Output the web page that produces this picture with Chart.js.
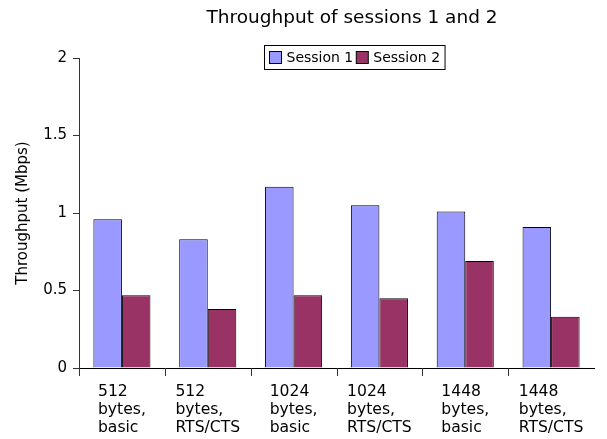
<!DOCTYPE html>
<html>
<head>
<meta charset="utf-8">
<script src="https://cdn.jsdelivr.net/npm/chart.js@4"></script>
<style>
  html, body { margin: 0; padding: 0; background: #fff; }
  #wrap { width: 607px; height: 439px; }
</style>
</head>
<body>
<div id="wrap"><canvas id="chart" width="607" height="439"></canvas></div>
<script>
const categories = [
  ['512', 'bytes,', 'basic'],
  ['512', 'bytes,', 'RTS/CTS'],
  ['1024', 'bytes,', 'basic'],
  ['1024', 'bytes,', 'RTS/CTS'],
  ['1448', 'bytes,', 'basic'],
  ['1448', 'bytes,', 'RTS/CTS'],
];
const session1 = [0.96, 0.83, 1.17, 1.05, 1.01, 0.91];
const session2 = [0.47, 0.38, 0.47, 0.45, 0.69, 0.33];
const seriesNames = ['Session 1', 'Session 2'];
const seriesColors = ['#9999ff', '#993366'];
const yTicks = [0, 0.5, 1, 1.5, 2];

const FONT = "'DejaVu Sans', sans-serif";
Chart.defaults.font.family = FONT;
Chart.defaults.color = '#000';

const titlePlugin = {
  id: 'oooTitle',
  afterDraw(chart) {
    const c = chart.ctx;
    c.save();
    c.font = '18.5px ' + FONT;
    c.fillStyle = '#000';
    c.textAlign = 'center';
    c.textBaseline = 'middle';
    c.fillText('Throughput of sessions 1 and 2', 352, 18);
    c.restore();
  }
};

const legendPlugin = {
  id: 'oooLegend',
  afterDraw(chart) {
    const c = chart.ctx;
    c.save();
    c.font = '14px ' + FONT;
    const sw = 12, gap = 5, itemGap = 3, pad = 5;
    const widths = seriesNames.map(n => c.measureText(n).width);
    const total = pad * 2 + widths.reduce((a, w) => a + sw + gap + w, 0) + itemGap;
    const top = 45, h = 24;
    let x = Math.round(354.5 - total / 2) + 0.5;
    c.fillStyle = '#fff';
    c.fillRect(x, top + 0.5, total, h);
    c.strokeStyle = '#000';
    c.lineWidth = 1;
    c.strokeRect(x, top + 0.5, total, h);
    x += pad;
    c.textBaseline = 'middle';
    seriesNames.forEach((name, i) => {
      c.fillStyle = seriesColors[i];
      c.fillRect(x, top + 6.5, sw, sw);
      c.strokeRect(x, top + 6.5, sw, sw);
      c.fillStyle = '#000';
      c.textAlign = 'left';
      c.fillText(name, x + sw + gap, top + 13);
      x += sw + gap + widths[i] + itemGap;
    });
    c.restore();
  }
};

// category labels as left-aligned text blocks centred under each group,
// with tick marks between the groups
const axisLabelPlugin = {
  id: 'oooAxisLabels',
  afterDraw(chart) {
    const xs = chart.scales.x;
    const c = chart.ctx;
    const step = xs.width / categories.length;
    c.save();
    c.strokeStyle = '#333';
    c.lineWidth = 1;
    c.beginPath();
    for (let k = 0; k < categories.length; k++) {
      const px = Math.round(xs.left + step * k) + 0.5;
      c.moveTo(px, xs.top);
      c.lineTo(px, xs.top + 8);
    }
    c.stroke();
    c.font = '15.6px ' + FONT;
    c.fillStyle = '#000';
    c.textAlign = 'left';
    c.textBaseline = 'alphabetic';
    categories.forEach((lines, i) => {
      const w = Math.max(...lines.map(l => c.measureText(l).width));
      const x0 = xs.getPixelForTick(i) - w / 2;
      lines.forEach((l, j) => c.fillText(l, x0, xs.top + 28 + j * 18));
    });
    c.restore();
  }
};

new Chart(document.getElementById('chart'), {
  type: 'bar',
  data: {
    labels: categories.map(l => l.join(' ')),
    datasets: [session1, session2].map((d, i) => ({
      label: seriesNames[i],
      data: d,
      backgroundColor: seriesColors[i],
      borderColor: '#000',
      borderWidth: 1,
      categoryPercentage: 0.665,
      barPercentage: 1.0,
    }))
  },
  options: {
    responsive: false,
    animation: false,
    layout: { padding: { top: 58, right: 13, bottom: 0, left: 0 } },
    plugins: {
      legend: { display: false },
      title: { display: false },
      tooltip: { enabled: false }
    },
    scales: {
      x: {
        grid: { display: false },
        border: { color: '#000', width: 1 },
        ticks: { display: false },
        afterFit: s => { s.height = 71; }
      },
      y: {
        min: 0,
        max: 2,
        afterBuildTicks: s => { s.ticks = yTicks.map(v => ({ value: v })); },
        grid: { drawOnChartArea: false, drawTicks: true, tickLength: 6, color: '#333' },
        border: { color: '#333', width: 1 },
        ticks: {
          font: { size: 15, family: FONT },
          color: '#000',
          padding: 6,
          callback: v => String(v)
        },
        title: {
          display: true,
          text: 'Throughput (Mbps)',
          font: { size: 15, family: FONT },
          color: '#000',
          padding: { top: 14, bottom: 0 }
        },
        afterFit: s => { s.width = 79; }
      }
    }
  },
  plugins: [titlePlugin, legendPlugin, axisLabelPlugin]
});
</script>
</body>
</html>
